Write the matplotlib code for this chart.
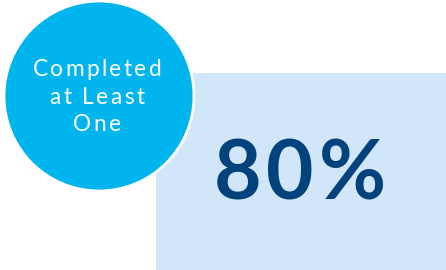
import matplotlib.pyplot as plt
from matplotlib.patches import Circle, Rectangle

# chart content
label_lines = ["Completed", "at Least", "One"]
value_pct = [80]

CIRCLE_COLOR = "#00B4EE"
BOX_COLOR = "#D1E6F8"
VALUE_COLOR = "#00427B"

W, H = 446, 270
fig = plt.figure(figsize=(W / 100, H / 100), dpi=100)
ax = fig.add_axes([0, 0, 1, 1])
ax.set_xlim(0, W)
ax.set_ylim(H, 0)
ax.axis("off")
renderer = fig.canvas.get_renderer()


def char_width(ch, **kw):
    # width in pixels (= data units here); spaces measured by difference
    if ch == " ":
        a = ax.text(0, 0, "a a", **kw)
        b = ax.text(0, 0, "aa", **kw)
        w = a.get_window_extent(renderer).width - b.get_window_extent(renderer).width
        a.remove()
        b.remove()
        return w
    t = ax.text(0, 0, ch, **kw)
    w = t.get_window_extent(renderer).width
    t.remove()
    return w


def spaced_text(x, y, s, spacing, **kw):
    widths = [char_width(c, **kw) for c in s]
    total = sum(widths) + spacing * (len(s) - 1)
    cx = x - total / 2
    for c, w in zip(s, widths):
        if c != " ":
            ax.text(cx, y, c, ha="left", va="baseline", **kw)
        cx += w + spacing


# light blue panel
ax.add_patch(Rectangle((156, 73), W - 156, H - 73, facecolor=BOX_COLOR,
                       edgecolor="none", zorder=1))

# cyan badge with thin white ring
ax.add_patch(Circle((99, 96), 95, facecolor=CIRCLE_COLOR, edgecolor="white",
                    linewidth=2, zorder=2))

label_style = dict(color="white", fontsize=16.3, family="Lato", zorder=3)
for i, line in enumerate(label_lines):
    spaced_text(97, 76 + i * 27.5, line, 2.4, **label_style)

value_style = dict(color=VALUE_COLOR, fontsize=59, family="Lato",
                   fontweight="bold", zorder=3)
spaced_text(300, 199, f"{value_pct[0]}%", 5.0, **value_style)

fig.savefig("out.png", dpi=100)
